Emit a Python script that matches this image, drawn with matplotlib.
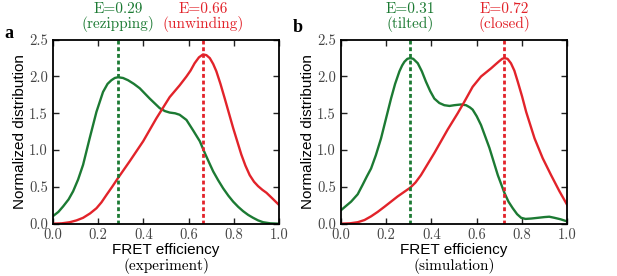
import matplotlib
matplotlib.use("Agg")
import matplotlib.pyplot as plt
from matplotlib.transforms import blended_transform_factory

GREEN = "#1c7a33"
RED = "#e2232a"

# panel a (experiment)
a_green_x = [0.0, 0.025, 0.046, 0.07, 0.09, 0.112, 0.134, 0.163, 0.193, 0.222, 0.242,
             0.259, 0.274, 0.288, 0.31, 0.332, 0.358, 0.384, 0.428, 0.472, 0.495, 0.516,
             0.54, 0.56, 0.59, 0.619, 0.649, 0.671, 0.69, 0.708, 0.73, 0.752, 0.775,
             0.796, 0.818, 0.84, 0.862, 0.884, 0.906, 0.928, 0.96, 1.0]
a_green_y = [0.10, 0.16, 0.235, 0.33, 0.44, 0.6, 0.8, 1.16, 1.52, 1.79, 1.9,
             1.95, 1.98, 1.99, 1.98, 1.95, 1.9, 1.84, 1.70, 1.57, 1.53, 1.51,
             1.5, 1.48, 1.41, 1.27, 1.12, 0.96, 0.83, 0.71, 0.59, 0.48, 0.38,
             0.30, 0.23, 0.17, 0.12, 0.08, 0.045, 0.02, 0.005, 0.0]
a_red_x = [0.0, 0.04, 0.075, 0.105, 0.134, 0.165, 0.193, 0.215, 0.237, 0.262, 0.288,
           0.34, 0.399, 0.457, 0.516, 0.56, 0.59, 0.608, 0.626, 0.645, 0.663, 0.678,
           0.693, 0.708, 0.722, 0.74, 0.759, 0.796, 0.832, 0.85, 0.869, 0.888, 0.906,
           0.925, 0.943, 0.97, 1.0]
a_red_y = [0.0, 0.005, 0.02, 0.045, 0.08, 0.14, 0.21, 0.29, 0.39, 0.5, 0.62,
           0.85, 1.12, 1.43, 1.72, 1.88, 2.0, 2.08, 2.18, 2.26, 2.30, 2.29,
           2.25, 2.17, 2.07, 1.9, 1.70, 1.30, 0.94, 0.79, 0.66, 0.57, 0.51,
           0.46, 0.42, 0.34, 0.25]

# panel b (simulation)
b_green_x = [0.0, 0.046, 0.075, 0.097, 0.115, 0.134, 0.155, 0.178, 0.2, 0.222, 0.24,
             0.259, 0.271, 0.281, 0.294, 0.307, 0.32, 0.33, 0.34, 0.358, 0.376, 0.395,
             0.413, 0.435, 0.457, 0.48, 0.501, 0.531, 0.553, 0.57, 0.582, 0.6, 0.619,
             0.656, 0.693, 0.722, 0.74, 0.759, 0.778, 0.796, 0.815, 0.84, 0.87, 0.899,
             0.92, 0.943, 0.97, 1.0]
b_green_y = [0.18, 0.30, 0.4, 0.53, 0.64, 0.75, 0.93, 1.16, 1.43, 1.70, 1.9,
             2.07, 2.15, 2.20, 2.24, 2.25, 2.24, 2.21, 2.18, 2.07, 1.93, 1.8,
             1.70, 1.64, 1.61, 1.60, 1.61, 1.62, 1.61, 1.58, 1.55, 1.46, 1.34,
             1.03, 0.66, 0.42, 0.3, 0.21, 0.13, 0.08, 0.065, 0.07, 0.08, 0.09,
             0.095, 0.08, 0.06, 0.03]
b_red_x = [0.0, 0.04, 0.075, 0.105, 0.134, 0.163, 0.193, 0.251, 0.307, 0.33, 0.354,
           0.413, 0.472, 0.516, 0.546, 0.582, 0.619, 0.663, 0.685, 0.7, 0.712, 0.722,
           0.736, 0.751, 0.766, 0.781, 0.8, 0.818, 0.855, 0.891, 0.928, 0.965, 1.0]
b_red_y = [0.0, 0.005, 0.02, 0.05, 0.10, 0.16, 0.23, 0.37, 0.49, 0.56, 0.66,
           0.96, 1.28, 1.50, 1.66, 1.86, 2.0, 2.11, 2.17, 2.21, 2.24, 2.25,
           2.24, 2.18, 2.08, 1.93, 1.73, 1.52, 1.16, 0.89, 0.66, 0.44, 0.25]

panels = [
    dict(letter="a", sub="(experiment)",
         green=(a_green_x, a_green_y), red=(a_red_x, a_red_y),
         green_peak=0.288, red_peak=0.665,
         green_label=["E=0.29", "(rezipping)"], red_label=["E=0.66", "(unwinding)"]),
    dict(letter="b", sub="(simulation)",
         green=(b_green_x, b_green_y), red=(b_red_x, b_red_y),
         green_peak=0.305, red_peak=0.722,
         green_label=["E=0.31", "(tilted)"], red_label=["E=0.72", "(closed)"]),
]

plt.rcParams["font.family"] = "cmr10"
plt.rcParams["axes.formatter.use_mathtext"] = True

fig = plt.figure(figsize=(6.17, 2.76), dpi=100)
lefts = [52.7 / 617, 340.7 / 617]

for left, p in zip(lefts, panels):
    ax = fig.add_axes([left, 52.3 / 276, 226.7 / 617, 184 / 276])
    ax.plot(*p["green"], color=GREEN, lw=1.7, solid_joinstyle="round")
    ax.plot(*p["red"], color=RED, lw=1.7, solid_joinstyle="round")
    ax.axvline(p["green_peak"], color=GREEN, lw=2, ls=(0, (1.4, 1.0)))
    ax.axvline(p["red_peak"], color=RED, lw=2, ls=(0, (1.4, 1.0)))
    ax.set_xlim(0, 1)
    ax.set_ylim(0, 2.5)
    ax.set_xticks([0.0, 0.2, 0.4, 0.6, 0.8, 1.0])
    ax.set_yticks([0.0, 0.5, 1.0, 1.5, 2.0, 2.5])
    ax.set_xticklabels(["0.0", "0.2", "0.4", "0.6", "0.8", "1.0"])
    ax.set_yticklabels(["0.0", "0.5", "1.0", "1.5", "2.0", "2.5"])
    ax.tick_params(direction="in", top=True, right=True, length=4, width=1,
                   labelsize=10.5, colors="#222222", labelcolor="#444444")
    ax.tick_params(axis="x", pad=3)
    for s in ax.spines.values():
        s.set_linewidth(1.3)
    ax.set_ylabel("Normalized distribution", family="Liberation Sans", fontsize=11)
    ax.yaxis.set_label_coords(-0.113, 0.5)
    ax.text(0.5, -0.142, "FRET efficiency", transform=ax.transAxes, ha="center",
            va="center", family="Liberation Sans", fontsize=11)
    ax.text(0.5, -0.228, p["sub"], transform=ax.transAxes, ha="center", va="center",
            fontsize=11)
    tr = blended_transform_factory(ax.transData, ax.transAxes)
    for xv, col, lines in [(p["green_peak"], GREEN, p["green_label"]),
                           (p["red_peak"], RED, p["red_label"])]:
        ax.text(xv, 1.168, lines[0], transform=tr, ha="center", va="center",
                color=col, fontsize=11)
        ax.text(xv, 1.085, lines[1], transform=tr, ha="center", va="center",
                color=col, fontsize=11)

fig.text(8.5 / 617, 1 - 38 / 276, "a", family="Liberation Serif", weight="bold",
         fontsize=13, ha="center", va="baseline")
fig.text(298 / 617, 1 - 32 / 276, "b", family="Liberation Serif", weight="bold",
         fontsize=13, ha="center", va="baseline")

fig.savefig("out.png", dpi=100)
